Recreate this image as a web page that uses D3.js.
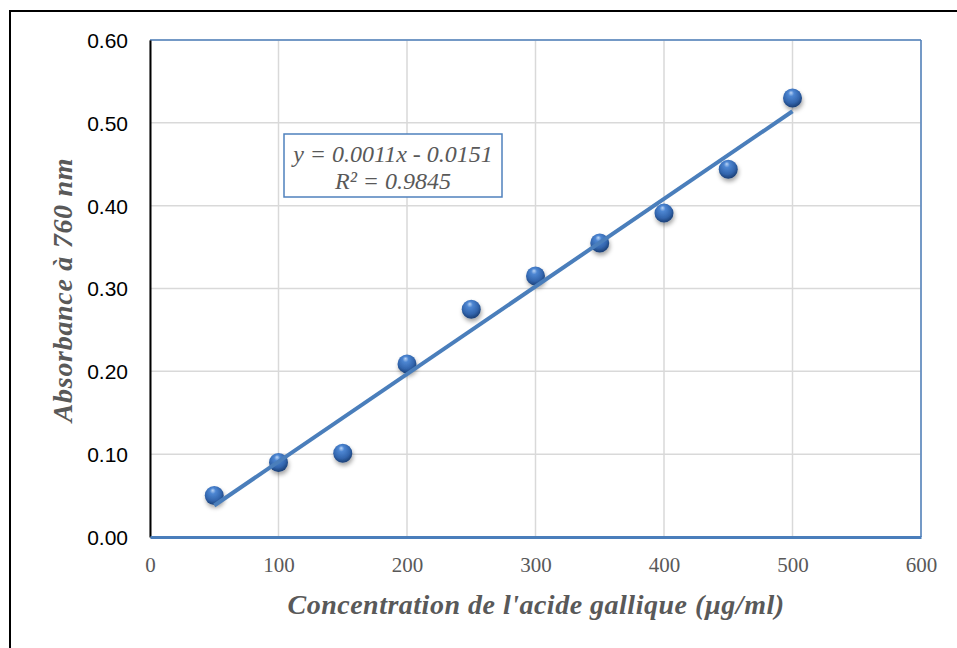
<!DOCTYPE html>
<html>
<head>
<meta charset="utf-8">
<script src="https://cdn.jsdelivr.net/npm/d3@7"></script>
<style>
  body { margin: 0; background: #fff; }
  .ytick text { font-family: "Liberation Sans", Arial, sans-serif; font-size: 21px; fill: #000; }
  .xtick text { font-family: "Liberation Serif", "Times New Roman", serif; font-size: 21px; fill: #595959; }
  .title { font-family: "Liberation Serif", "Times New Roman", serif; font-weight: bold; font-style: italic; fill: #595959; }
  .eq { font-family: "Liberation Serif", "Times New Roman", serif; font-style: italic; font-size: 24px; fill: #595959; }
</style>
</head>
<body>
<div id="chart"></div>
<script>
// concentration (µg/ml) and absorbance readings
const concentrations = [50, 100, 150, 200, 250, 300, 350, 400, 450, 500];
const absorbances = [0.05, 0.09, 0.101, 0.209, 0.275, 0.315, 0.355, 0.391, 0.444, 0.530];
const xTicks = [0, 100, 200, 300, 400, 500, 600];
const yTicks = [0, 0.1, 0.2, 0.3, 0.4, 0.5, 0.6];
const equationLines = ["y = 0.0011x - 0.0151", "R² = 0.9845"];

const W = 957, H = 648;
const margin = {top: 40, right: 36, bottom: 111, left: 150};
const width = W - margin.left - margin.right,
      height = H - margin.top - margin.bottom;

const svg = d3.select("#chart").append("svg")
    .attr("width", W)
    .attr("height", H);

// outer chart frame (right / bottom edges fall outside the picture)
svg.append("rect")
    .attr("x", 10).attr("y", 11)
    .attr("width", W + 20).attr("height", H + 20)
    .attr("fill", "none")
    .attr("stroke", "#000")
    .attr("stroke-width", 2);

// sphere gradient + shadow
const defs = svg.append("defs");
const grad = defs.append("radialGradient")
    .attr("id", "ball")
    .attr("cx", "45%").attr("cy", "38%").attr("r", "62%")
    .attr("fx", "42%").attr("fy", "22%");
grad.append("stop").attr("offset", "0%").attr("stop-color", "#b9d4f6");
grad.append("stop").attr("offset", "25%").attr("stop-color", "#4d86d2");
grad.append("stop").attr("offset", "70%").attr("stop-color", "#3265ad");
grad.append("stop").attr("offset", "100%").attr("stop-color", "#1b3f75");

const shadow = defs.append("filter").attr("id", "shadow")
    .attr("x", "-50%").attr("y", "-50%").attr("width", "200%").attr("height", "200%");
shadow.append("feDropShadow")
    .attr("dx", 1).attr("dy", 3).attr("stdDeviation", 2)
    .attr("flood-color", "#000").attr("flood-opacity", 0.35);

const g = svg.append("g")
    .attr("transform", "translate(" + margin.left + "," + margin.top + ")");

const x = d3.scaleLinear().domain([0, 600]).range([0, width]);
const y = d3.scaleLinear().domain([0, 0.6]).range([height, 0]);

// gridlines
g.append("g")
    .selectAll("line")
    .data(yTicks)
    .join("line")
    .attr("x1", 0).attr("x2", width)
    .attr("y1", d => y(d)).attr("y2", d => y(d))
    .attr("stroke", "#d9d9d9").attr("stroke-width", 1.5);

g.append("g")
    .selectAll("line")
    .data(xTicks)
    .join("line")
    .attr("x1", d => x(d)).attr("x2", d => x(d))
    .attr("y1", 0).attr("y2", height)
    .attr("stroke", "#d9d9d9").attr("stroke-width", 1.5);

// plot area border
g.append("line").attr("x1", 0).attr("x2", width).attr("y1", 0).attr("y2", 0)
    .attr("stroke", "#4f81bd").attr("stroke-width", 1.5);
g.append("line").attr("x1", width).attr("x2", width).attr("y1", 0).attr("y2", height)
    .attr("stroke", "#4f81bd").attr("stroke-width", 1.5);

// axes
const yAxis = g.append("g")
    .attr("class", "ytick")
    .call(d3.axisLeft(y).tickValues(yTicks).tickFormat(d3.format(".2f")).tickSize(0).tickPadding(22));
yAxis.select(".domain").attr("stroke", "#000").attr("stroke-width", 2);
yAxis.selectAll("text").attr("dy", "0.35em");

const xAxis = g.append("g")
    .attr("class", "xtick")
    .attr("transform", "translate(0," + height + ")")
    .call(d3.axisBottom(x).tickValues(xTicks).tickFormat(d3.format("d")).tickSize(0).tickPadding(20));
xAxis.select(".domain").attr("stroke", "#4a7ebb").attr("stroke-width", 3);

// points
g.append("g")
    .selectAll("circle")
    .data(concentrations)
    .join("circle")
    .attr("cx", d => x(d))
    .attr("cy", (d, i) => y(absorbances[i]))
    .attr("r", 9.5)
    .attr("fill", "url(#ball)")
    .attr("filter", "url(#shadow)");

// linear trendline (least squares)
const mx = d3.mean(concentrations), my = d3.mean(absorbances);
let sxy = 0, sxx = 0;
concentrations.forEach((c, i) => {
  sxy += (c - mx) * (absorbances[i] - my);
  sxx += (c - mx) * (c - mx);
});
const slope = sxy / sxx, intercept = my - slope * mx;
const ends = d3.extent(concentrations);
g.append("line")
    .attr("x1", x(ends[0])).attr("y1", y(slope * ends[0] + intercept))
    .attr("x2", x(ends[1])).attr("y2", y(slope * ends[1] + intercept))
    .attr("stroke", "#4a7ebb")
    .attr("stroke-width", 4);

// equation label
const eq = svg.append("g").attr("transform", "translate(284,134)");
eq.append("rect")
    .attr("width", 218).attr("height", 63)
    .attr("fill", "#fff")
    .attr("stroke", "#4f81bd").attr("stroke-width", 1.5);
eq.selectAll("text")
    .data(equationLines)
    .join("text")
    .attr("class", "eq")
    .attr("x", 109)
    .attr("y", (d, i) => 28 + i * 27)
    .attr("text-anchor", "middle")
    .text(d => d);

// axis titles
svg.append("text")
    .attr("class", "title")
    .attr("x", 536).attr("y", 614)
    .attr("text-anchor", "middle")
    .style("font-size", "28px")
    .style("letter-spacing", "0.5px")
    .text("Concentration de l'acide gallique (µg/ml)");

svg.append("text")
    .attr("class", "title")
    .attr("transform", "translate(72,290) rotate(-90)")
    .attr("text-anchor", "middle")
    .style("font-size", "28px")
    .style("letter-spacing", "0.7px")
    .text("Absorbance à 760 nm");
</script>
</body>
</html>
